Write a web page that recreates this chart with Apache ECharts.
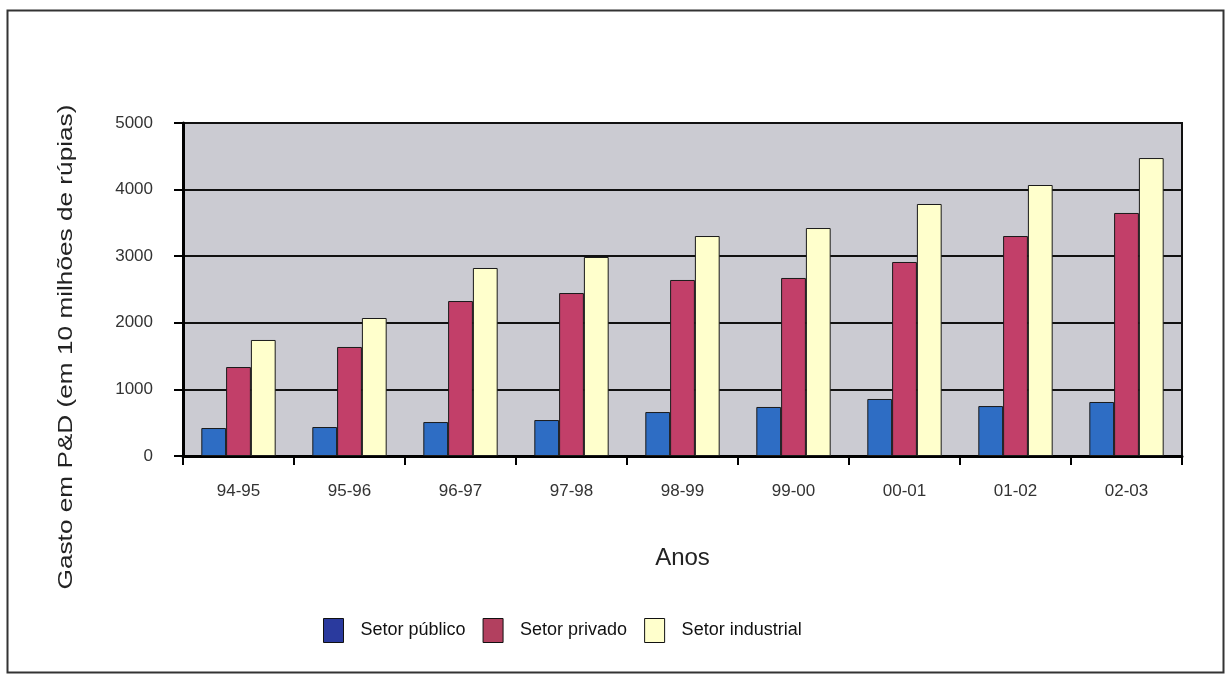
<!DOCTYPE html>
<html><head><meta charset="utf-8">
<style>html,body{margin:0;padding:0;background:#fff}#c{width:1225px;height:675px}</style>
<script src="https://cdn.jsdelivr.net/npm/echarts@6/dist/echarts.min.js"></script>
</head><body><div id="c"></div>
<script>
const categories = ['94-95','95-96','96-97','97-98','98-99','99-00','00-01','01-02','02-03'];
const setorPublico = [420, 435, 510, 540, 660, 736, 856, 750, 811];
const setorPrivado = [1336, 1637, 2327, 2447, 2643, 2673, 2913, 3303, 3649];
const setorIndustrial = [1742, 2072, 2823, 2988, 3303, 3423, 3784, 4069, 4474];
const yTicks = [0, 1000, 2000, 3000, 4000, 5000];
const yTitle = 'Gasto em P&D (em 10 milhões de rúpias)';
const xTitle = 'Anos';

const chart = echarts.init(document.getElementById('c'), null, {renderer:'canvas'});
const font = '"Liberation Sans", Arial, sans-serif';
const barBorder = {borderColor:'#1a1a1a', borderWidth:1};
chart.setOption({
  animation:false,
  backgroundColor:'#fff',
  graphic:[
    {type:'rect', shape:{x:7.5,y:10.5,width:1216,height:662}, style:{fill:'none', stroke:'#333', lineWidth:2}, silent:true},
    {type:'text', x:66, y:347, rotation:Math.PI/2, scaleX:1.31, silent:true,
     style:{text:yTitle, font:'20px "Liberation Sans", Arial, sans-serif', fill:'#222', textAlign:'center', textVerticalAlign:'middle'}}
  ],
  grid:{left:183, top:123, right:1225-1182, bottom:675-456, show:true, backgroundColor:'#cbcbd2', borderColor:'#111', borderWidth:2},
  legend:{
    left:318, top:613, itemWidth:20, itemHeight:24, itemGap:17,
    textStyle:{fontFamily:font, fontSize:18, color:'#111', padding:[0,0,0,12]},
    data:[
      {name:'Setor público', icon:'rect', itemStyle:{color:'#2a3a9e', borderColor:'#111', borderWidth:1}},
      {name:'Setor privado', icon:'rect', itemStyle:{color:'#b2405f', borderColor:'#111', borderWidth:1}},
      {name:'Setor industrial', icon:'rect', itemStyle:{color:'#ffffcc', borderColor:'#111', borderWidth:1}}
    ]
  },
  xAxis:{
    type:'category', data:categories,
    name:xTitle, nameLocation:'middle', nameGap:90,
    nameTextStyle:{fontFamily:font, fontSize:24, color:'#222'},
    axisLine:{lineStyle:{color:'#000', width:3}},
    axisTick:{show:true, length:9, lineStyle:{color:'#000', width:2}},
    axisLabel:{fontFamily:font, fontSize:17, color:'#333', margin:27},
    splitLine:{show:false}
  },
  yAxis:{
    type:'value', min:yTicks[0], max:yTicks[yTicks.length-1], interval:1000,
    axisLine:{show:true, lineStyle:{color:'#000', width:3}},
    axisTick:{show:true, length:9, lineStyle:{color:'#000', width:2}},
    axisLabel:{fontFamily:font, fontSize:17, color:'#333', margin:30, formatter:(v)=>String(v)},
    splitLine:{show:true, lineStyle:{color:'#111', width:2}}
  },
  series:[
    {name:'Setor público', type:'bar', data:setorPublico, barGap:'0%', barCategoryGap:'33%', itemStyle:Object.assign({color:'#2e6dc4'}, barBorder)},
    {name:'Setor privado', type:'bar', data:setorPrivado, itemStyle:Object.assign({color:'#c23f69'}, barBorder)},
    {name:'Setor industrial', type:'bar', data:setorIndustrial, itemStyle:Object.assign({color:'#ffffcc'}, barBorder)}
  ]
});
</script></body></html>
